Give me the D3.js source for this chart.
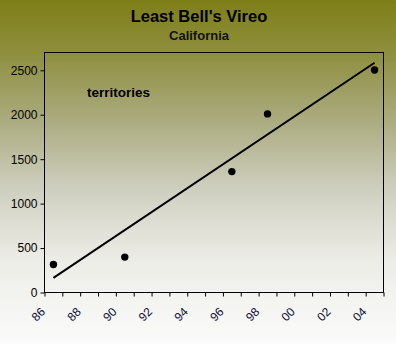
<!DOCTYPE html>
<html>
<head>
<meta charset="utf-8">
<script src="https://cdn.jsdelivr.net/npm/d3@7/dist/d3.min.js"></script>
<style>
  html, body { margin: 0; padding: 0; background: #fff; }
  svg { display: block; font-family: "Liberation Sans", Arial, sans-serif; }
</style>
</head>
<body>
<svg id="chart" width="396" height="344"></svg>
<script>
// Survey years and counted territories
const years = [1986, 1990, 1996, 1998, 2004];
const territories = [315, 398, 1360, 2009, 2503];

// Linear trend line end points
const trendYears = [1986, 2004];
const trendValues = [165, 2585];

// Axis ticks
const yTicks = [0, 500, 1000, 1500, 2000, 2500];
const xTickYears = d3.range(1986, 2006);
const xLabelYears = [1986, 1988, 1990, 1992, 1994, 1996, 1998, 2000, 2002, 2004];

const W = 396, H = 344;
const plot = { left: 44.5, top: 52.5, right: 383.5, bottom: 292.5 };

const svg = d3.select("#chart");

// Background: olive fading to white
const defs = svg.append("defs");
const grad = defs.append("linearGradient")
  .attr("id", "bg").attr("x1", 0).attr("y1", 0).attr("x2", 0).attr("y2", 1);
[["0%", "#7e7e18"], ["15%", "#8e8e3e"], ["35%", "#abab80"], ["55%", "#cfcfc0"],
 ["75%", "#ecece6"], ["100%", "#fbfbfb"]].forEach(([o, c]) =>
  grad.append("stop").attr("offset", o).attr("stop-color", c));
svg.append("rect").attr("width", W).attr("height", H).attr("fill", "url(#bg)");

const x = d3.scaleLinear().domain([1986, 2005]).range([plot.left, plot.right]);
const y = d3.scaleLinear().domain([0, 2700]).range([plot.bottom, plot.top]);

// Titles
svg.append("text").attr("x", 199).attr("y", 22).attr("text-anchor", "middle")
  .attr("font-size", 16.5).attr("font-weight", "bold").attr("fill", "#000")
  .text("Least Bell's Vireo");
svg.append("text").attr("x", 199).attr("y", 39.5).attr("text-anchor", "middle")
  .attr("font-size", 13).attr("font-weight", "bold").attr("fill", "#111")
  .text("California");

// Plot frame
svg.append("rect")
  .attr("x", plot.left).attr("y", plot.top)
  .attr("width", plot.right - plot.left).attr("height", plot.bottom - plot.top)
  .attr("fill", "none").attr("stroke", "#000").attr("stroke-width", 1);

// Y axis
const yAxis = d3.axisLeft(y).tickValues(yTicks).tickSize(4).tickPadding(3)
  .tickFormat(d3.format("d"));
const gy = svg.append("g").attr("transform", `translate(${plot.left},0)`).call(yAxis);
gy.select(".domain").remove();
gy.selectAll("line").attr("stroke", "#000");
gy.selectAll("text").attr("font-size", 12).attr("fill", "#000")
  .attr("font-family", "Liberation Sans, Arial, sans-serif");

// X axis: a tick every year, two-digit labels every other year
const xAxis = d3.axisBottom(x).tickValues(xTickYears).tickSize(4).tickFormat("");
const gx = svg.append("g").attr("transform", `translate(0,${plot.bottom})`).call(xAxis);
gx.select(".domain").remove();
gx.selectAll("line").attr("stroke", "#000");

svg.append("g").selectAll("text").data(xLabelYears).join("text")
  .attr("transform", d => `translate(${x(d) + 1.5},${plot.bottom + 20}) rotate(-45)`)
  .attr("text-anchor", "end")
  .attr("font-size", 12).attr("fill", "#10103a")
  .text(d => String(d % 100).padStart(2, "0"));

// Trend line
const line = d3.line().x(d => x(d[0] + 0.5)).y(d => y(d[1]));
svg.append("path")
  .datum(trendYears.map((yr, i) => [yr, trendValues[i]]))
  .attr("d", line).attr("fill", "none").attr("stroke", "#000").attr("stroke-width", 2);

// Observations
svg.append("g").selectAll("circle").data(years).join("circle")
  .attr("cx", d => x(d + 0.5))
  .attr("cy", (d, i) => y(territories[i]))
  .attr("r", 3.7).attr("fill", "#000");

// Series label
svg.append("text").attr("x", 87).attr("y", 96.5)
  .attr("font-size", 13.5).attr("font-weight", "bold").attr("fill", "#000")
  .text("territories");
</script>
</body>
</html>
